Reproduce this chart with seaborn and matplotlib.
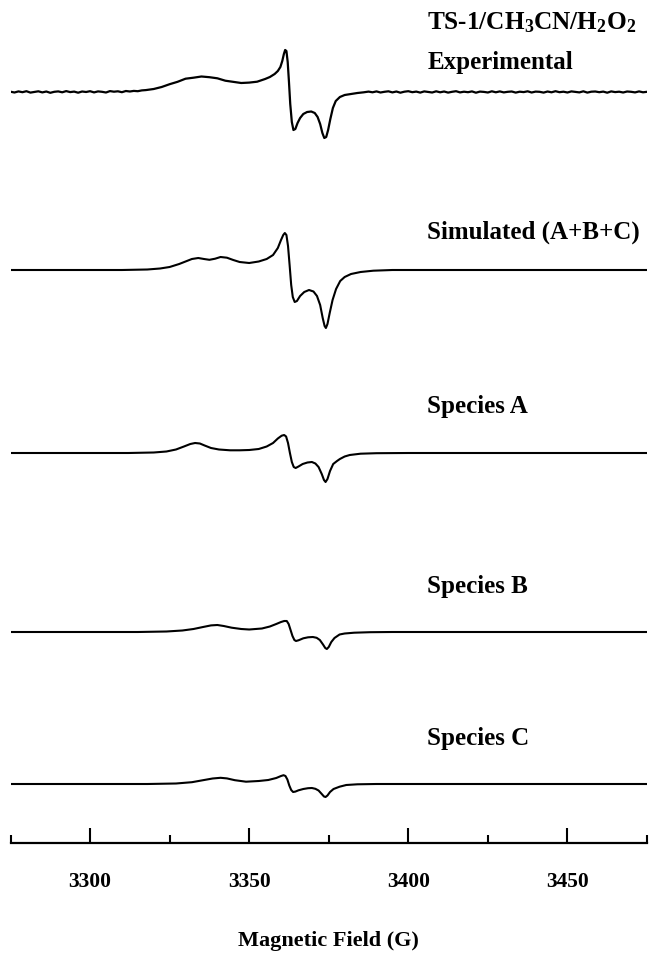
import matplotlib
matplotlib.use("Agg")
import matplotlib.pyplot as plt
import seaborn as sns
import pandas as pd

# ---------------- data (field in G, intensity in arbitrary units, + = up) ----------------
exp_field_left = [3275.0, 3276.25, 3277.5, 3278.75, 3280.0, 3281.25, 3282.5, 3283.75, 3285.0, 3286.25,
                  3287.5, 3288.75, 3290.0, 3291.25, 3292.5, 3293.75, 3295.0, 3296.25, 3297.5, 3298.75,
                  3300.0, 3301.25, 3302.5, 3303.75, 3305.0, 3306.25, 3307.5, 3308.75, 3310.0, 3311.25,
                  3312.5, 3313.75, 3315.0, 3316.25, 3317.5]
exp_int_left = [0.3, -0.5, 0.6, -0.2, 0.8, -0.6, 0.1, 0.7, -0.4, 0.5,
                -0.8, 0.2, 0.6, -0.3, 0.9, -0.1, 0.4, -0.7, 0.5, 0.0,
                0.8, -0.4, 0.6, 0.2, -0.5, 0.9, 0.3, 0.7, -0.2, 1.0,
                0.5, 1.1, 0.8, 1.6, 1.9]
exp_field_mid = [3320, 3322.5, 3325, 3327.5, 3330, 3332.5, 3335, 3337.5, 3340, 3342.5,
                 3345, 3347.5, 3350, 3352.5, 3355, 3356.5, 3358, 3359, 3359.8, 3360.4,
                 3360.9, 3361.3, 3361.7, 3362.1, 3362.5, 3362.9, 3363.4, 3363.9, 3364.5, 3365.2,
                 3366, 3367, 3368.2, 3369.5, 3370.6, 3371.5, 3372.3, 3373, 3373.6, 3374.2,
                 3374.8, 3375.5, 3376.3, 3377.2, 3378.5, 3380, 3382, 3384, 3386]
exp_int_mid = [3.0, 5.0, 7.8, 10.2, 13.3, 14.3, 15.5, 14.8, 13.7, 11.3,
               10.2, 9.0, 9.4, 10.3, 13.0, 15.0, 18.0, 21.0, 25.0, 31.0,
               38.0, 42.0, 41.0, 30.0, 10.0, -12.0, -30.0, -38.0, -37.0, -31.0,
               -26.0, -22.0, -20.0, -19.5, -21.0, -25.0, -32.0, -41.0, -46.0, -45.0,
               -38.0, -27.0, -16.0, -9.0, -5.0, -3.0, -2.0, -1.0, -0.3]
exp_field_right = [3387.5, 3388.75, 3390, 3391.25, 3392.5, 3393.75, 3395, 3396.25, 3397.5, 3398.75,
                   3400, 3401.25, 3402.5, 3403.75, 3405, 3406.25, 3407.5, 3408.75, 3410, 3411.25,
                   3412.5, 3413.75, 3415, 3416.25, 3417.5, 3418.75, 3420, 3421.25, 3422.5, 3423.75,
                   3425, 3426.25, 3427.5, 3428.75, 3430, 3431.25, 3432.5, 3433.75, 3435, 3436.25,
                   3437.5, 3438.75, 3440, 3441.25, 3442.5, 3443.75, 3445, 3446.25, 3447.5, 3448.75,
                   3450, 3451.25, 3452.5, 3453.75, 3455, 3456.25, 3457.5, 3458.75, 3460, 3461.25,
                   3462.5, 3463.75, 3465, 3466.25, 3467.5, 3468.75, 3470, 3471.25, 3472.5, 3473.75,
                   3475]
exp_int_right = [0.4, -0.3, 0.6, -0.5, 0.2, 0.7, -0.4, 0.5, -0.7, 0.3,
                 0.8, -0.2, 0.4, -0.6, 0.6, 0.1, -0.5, 0.7, -0.3, 0.5,
                 -0.6, 0.2, 0.8, -0.4, 0.3, -0.2, 0.6, -0.7, 0.4, 0.1,
                 -0.5, 0.7, -0.3, 0.6, -0.4, 0.2, 0.5, -0.6, 0.3, -0.1,
                 0.7, -0.5, 0.4, 0.2, -0.6, 0.5, -0.3, 0.8, -0.2, 0.3,
                 -0.5, 0.6, 0.1, -0.4, 0.7, -0.6, 0.3, 0.5, -0.2, 0.4,
                 -0.7, 0.6, -0.1, 0.3, -0.5, 0.5, 0.2, -0.4, 0.6, -0.3,
                 0.2]
exp_field = exp_field_left + exp_field_mid + exp_field_right
exp_int = exp_int_left + exp_int_mid + exp_int_right

sim_field = [3275, 3310, 3318, 3322, 3325, 3328, 3330, 3332, 3334, 3335.8,
             3337.5, 3339.3, 3341, 3343, 3345, 3347, 3350, 3353, 3355.5, 3357.5,
             3359, 3360, 3360.7, 3361.2, 3361.7, 3362.2, 3362.7, 3363.2, 3363.7, 3364.3,
             3365, 3366, 3367.3, 3368.8, 3370.2, 3371.3, 3372.3, 3373.1, 3373.7, 3374.1,
             3374.6, 3375.3, 3376.2, 3377.3, 3378.6, 3380, 3382, 3385, 3389, 3395, 3475]
sim_int = [0.0, 0.0, 0.5, 1.5, 3.0, 6.0, 8.5, 11.0, 12.0, 11.0,
           10.2, 11.3, 13.0, 12.3, 10.0, 8.0, 7.0, 8.5, 11.0, 15.0,
           22.0, 30.0, 35.0, 37.0, 35.0, 24.0, 5.0, -15.0, -27.0, -32.0,
           -31.0, -26.0, -22.0, -20.0, -21.5, -26.0, -35.0, -48.0, -56.0, -58.0,
           -54.0, -43.0, -30.0, -19.0, -11.0, -7.0, -4.0, -2.0, -0.7, 0.0, 0.0]

a_field = [3275, 3312, 3320, 3324, 3327, 3329.5, 3331.5, 3333, 3334.5, 3336,
           3338, 3340.5, 3344, 3347, 3350, 3353, 3355.5, 3357.5, 3359, 3360.2,
           3361, 3361.6, 3362.2, 3362.8, 3363.4, 3364, 3364.6, 3365.5, 3366.8, 3368.3,
           3369.7, 3370.8, 3371.8, 3372.8, 3373.5, 3374, 3374.6, 3375.4, 3376.4, 3377.6,
           3378.5, 3380, 3381.6, 3385, 3390, 3400, 3475]
a_int = [0.0, 0.0, 0.5, 1.5, 3.5, 6.5, 9.0, 10.0, 9.5, 7.5,
         5.0, 3.5, 2.7, 2.7, 3.0, 4.0, 6.5, 10.0, 14.5, 17.3,
         18.0, 16.5, 10.0, 0.0, -9.0, -14.0, -15.0, -13.5, -11.0, -9.5,
         -9.0, -10.5, -14.0, -21.0, -27.0, -29.0, -26.0, -18.0, -11.0, -8.0,
         -6.0, -3.5, -2.0, -0.7, -0.2, 0.0, 0.0]

b_field = [3275, 3315, 3324, 3329, 3332.5, 3335.5, 3338, 3340, 3342, 3344.5,
           3347.5, 3350, 3354, 3356.5, 3358.5, 3360, 3361, 3361.8, 3362.4, 3363,
           3363.6, 3364.2, 3364.7, 3365.5, 3367, 3368.5, 3370, 3371.2, 3372.2, 3373.2,
           3373.9, 3374.4, 3375, 3375.8, 3376.8, 3378.4, 3380, 3383, 3388, 3395, 3475]
b_int = [0.0, 0.0, 0.5, 1.5, 3.0, 5.0, 6.6, 7.0, 6.0, 4.3,
         3.0, 2.5, 3.5, 5.5, 8.0, 10.0, 11.0, 11.0, 8.0, 2.0,
         -4.0, -8.0, -9.0, -8.3, -6.3, -5.3, -5.0, -5.8, -8.0, -12.5,
         -16.0, -17.0, -15.0, -10.0, -6.0, -2.5, -1.5, -0.7, -0.2, 0.0, 0.0]

c_field = [3275, 3318, 3327, 3332, 3335.5, 3338.5, 3341, 3343, 3345.5, 3349,
           3353, 3356, 3358.5, 3360, 3360.8, 3361.4, 3362, 3362.6, 3363.2, 3363.8,
           3364.5, 3365.5, 3367, 3368.5, 3369.7, 3370.8, 3371.8, 3372.8, 3373.5, 3374,
           3374.6, 3375.4, 3376.5, 3378.4, 3380.5, 3384, 3390, 3475]
c_int = [0.0, 0.0, 0.5, 1.8, 3.8, 5.5, 6.2, 5.6, 3.8, 2.3,
         3.0, 4.0, 6.0, 8.0, 8.8, 8.0, 4.5, -1.5, -6.0, -8.0,
         -7.6, -6.3, -5.0, -4.2, -4.0, -4.8, -6.5, -10.0, -12.5, -13.0,
         -11.5, -8.0, -5.0, -2.7, -1.0, -0.3, 0.0, 0.0]

spectrum_names = ["Experimental", "Simulated (A+B+C)", "Species A", "Species B", "Species C"]
title_text = r"TS-1/CH$_3$CN/H$_2$O$_2$"
major_ticks = [3300, 3350, 3400, 3450]
minor_ticks = [3275, 3325, 3375, 3425, 3475]
x_label = "Magnetic Field (G)"

# ---------------- layout (pixel positions, styles) ----------------
W, H = 649, 956
baseline_px = {"Experimental": 92, "Simulated (A+B+C)": 270, "Species A": 453,
               "Species B": 632, "Species C": 784}
label_px = {"Experimental": 63, "Simulated (A+B+C)": 232, "Species A": 406,
            "Species B": 587, "Species C": 738}
line_w = {"Experimental": 1.6, "Simulated (A+B+C)": 1.5, "Species A": 1.5,
          "Species B": 1.5, "Species C": 1.5}
title_px = 23
label_field = 3406
axis_px = 843

frames = []
for name, f, v in zip(spectrum_names,
                      [exp_field, sim_field, a_field, b_field, c_field],
                      [exp_int, sim_int, a_int, b_int, c_int]):
    frames.append(pd.DataFrame({"field": f, "intensity": v, "spectrum": name}))
df = pd.concat(frames, ignore_index=True)
df["y"] = df["spectrum"].map(baseline_px) - df["intensity"]

sns.set_theme(style="white")
plt.rcParams["font.family"] = ["Liberation Serif", "DejaVu Serif"]
plt.rcParams["mathtext.fontset"] = "custom"
plt.rcParams["mathtext.rm"] = "Liberation Serif:bold"
plt.rcParams["mathtext.it"] = "Liberation Serif:bold"
plt.rcParams["mathtext.bf"] = "Liberation Serif:bold"
plt.rcParams["mathtext.default"] = "rm"

fig = plt.figure(figsize=(W / 100, H / 100), dpi=100)
fig.patch.set_facecolor("white")
ax = fig.add_axes([10.5 / W, (H - axis_px) / H, 636.5 / W, axis_px / H])

for name in spectrum_names:
    sub = df[df["spectrum"] == name]
    sns.lineplot(data=sub, x="field", y="y", ax=ax, color="black",
                 lw=line_w[name], estimator=None, sort=False, legend=False)
for line in ax.get_lines():
    line.set_solid_joinstyle("round")
    line.set_solid_capstyle("round")

ax.set_xlim(3275, 3475)
ax.set_ylim(axis_px, 0)

for name in spectrum_names:
    ax.text(label_field, label_px[name], name, ha="left", va="center",
            fontsize=18, fontweight="bold", color="black")
ax.text(label_field, title_px, title_text, ha="left", va="center",
        fontsize=18.2, fontweight="bold", color="black")

for s in ["top", "left", "right"]:
    ax.spines[s].set_visible(False)
ax.spines["bottom"].set_linewidth(1.6)
ax.spines["bottom"].set_color("black")
ax.set_yticks([])
ax.set_ylabel("")
ax.set_xticks(major_ticks)
ax.set_xticks(minor_ticks, minor=True)
ax.set_xticklabels([str(t) for t in major_ticks])
ax.tick_params(axis="x", which="major", direction="in", length=11, width=1.5,
               color="black", pad=21, labelsize=15.5, bottom=True, labelcolor="black")
ax.tick_params(axis="x", which="minor", direction="in", length=5.5, width=1.5,
               color="black", bottom=True)
for lab in ax.get_xticklabels():
    lab.set_fontweight("bold")
ax.set_xlabel(x_label, fontsize=16, fontweight="bold", color="black")
ax.xaxis.label.set_va("center")
ax.xaxis.set_label_coords(0.5, (axis_px - 941) / axis_px)
ax.grid(False)

fig.savefig("out.png", dpi=100, facecolor="white")
